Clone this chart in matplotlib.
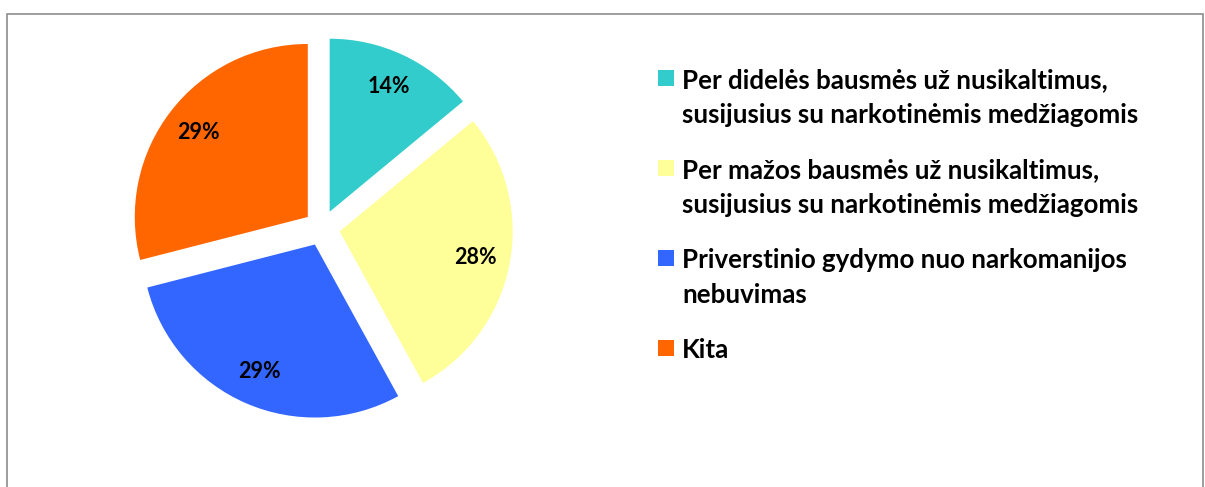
import matplotlib
matplotlib.use("Agg")
import matplotlib.pyplot as plt
from matplotlib.patches import Rectangle

labels = [
    "Per didelės bausmės už nusikaltimus,\nsusijusius su narkotinėmis medžiagomis",
    "Per mažos bausmės už nusikaltimus,\nsusijusius su narkotinėmis medžiagomis",
    "Priverstinio gydymo nuo narkomanijos\nnebuvimas",
    "Kita",
]
values = [14, 28, 29, 29]
colors = ["#33CCCC", "#FFFF99", "#3366FF", "#FF6600"]

W, H = 1205, 487
fig = plt.figure(figsize=(W / 100, H / 100), dpi=100)
FONT = ["Lato", "DejaVu Sans"]

# pie axes: center (322, 228) px, radius 173 px
R = 173.0
L = 1.2
cx, cy = 322, 228
size = 2 * L * R
ax = fig.add_axes([(cx - size / 2) / W, (H - cy - size / 2) / H, size / W, size / H])
wedges, texts, autotexts = ax.pie(
    values, colors=colors, startangle=90, counterclock=False,
    explode=[0.104] * len(values), autopct="%1.0f%%", pctdistance=0.8,
    wedgeprops=dict(linewidth=0),
    textprops=dict(fontsize=15.5, fontweight="bold", family=FONT, color="black"),
)
ax.set_xlim(-L, L)
ax.set_ylim(-L, L)
ax.set_aspect("equal")
ax.axis("off")

# legend drawn manually: marker aligned with first text line
x_mark, x_text = 658, 682
y0 = 78
line_h = 35
entry_gap = 55
y = y0
for lab, col in zip(labels, colors):
    fig.add_artist(Rectangle(((x_mark) / W, (H - y - 8) / H), 16 / W, 16 / H,
                             transform=fig.transFigure, facecolor=col, edgecolor="none"))
    lines = lab.split("\n")
    for i, ln in enumerate(lines):
        fig.text(x_text / W, (H - (y + i * line_h)) / H, ln, fontsize=18.6,
                 fontweight="bold", family=FONT, va="center_baseline", ha="left")
    y += (len(lines) - 1) * line_h + entry_gap

# chart border
fig.add_artist(Rectangle((7.5 / W, -0.1), (1203 - 7.5) / W, (H - 14) / H + 0.1,
                         transform=fig.transFigure, facecolor="none",
                         edgecolor="#8c8c8c", linewidth=1.2))

fig.savefig("out.png", dpi=100)
